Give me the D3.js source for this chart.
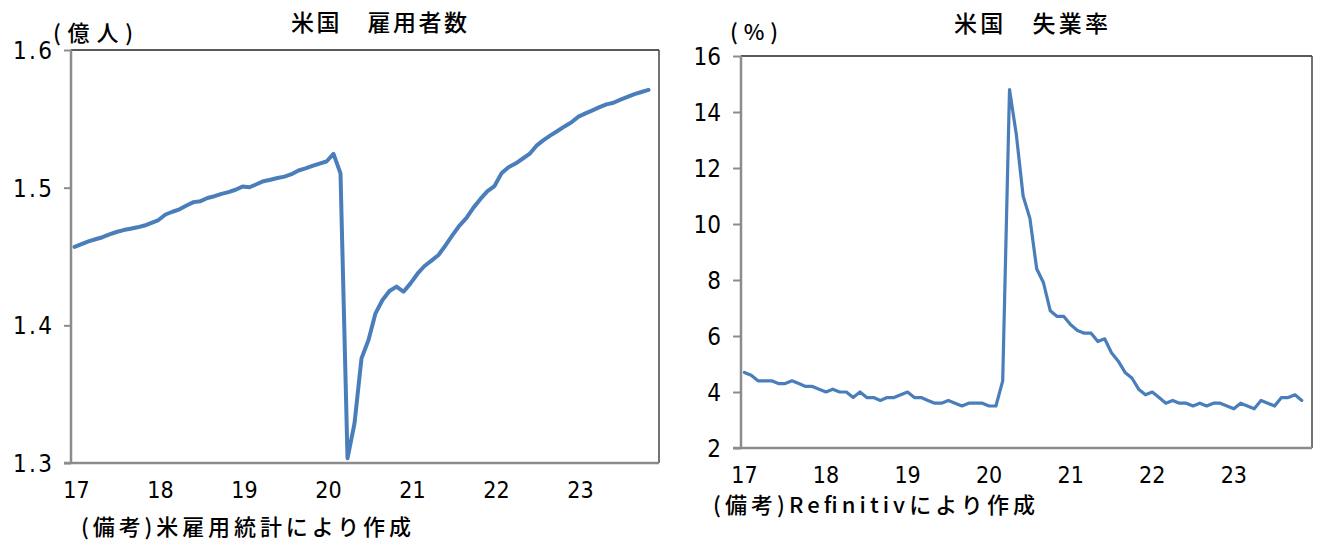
<!DOCTYPE html>
<html><head><meta charset="utf-8">
<script src="https://cdn.jsdelivr.net/npm/d3@7"></script>
<style>body{margin:0;background:#fff}svg{display:block}</style>
</head><body>
<svg id="c" width="1332" height="550"></svg>
<script>
// ---- data ----
const yearLabels = ["17","18","19","20","21","22","23"];
const months = [];
yearLabels.forEach(y => { for (let m = 1; m <= 12; m++) months.push(y + "-" + String(m).padStart(2, "0")); });

// US nonfarm employment (100 million persons), Jan 2017 - Nov 2023
const employment = [
  1.4570,1.4590,1.4610,1.4625,1.4640,1.4660,1.4678,1.4692,1.4702,1.4712,1.4725,1.4745,
  1.4765,1.4805,1.4825,1.4843,1.4870,1.4895,1.4902,1.4925,1.4938,1.4955,1.4968,1.4985,
  1.5008,1.5003,1.5025,1.5047,1.5058,1.5070,1.5080,1.5098,1.5125,1.5140,1.5158,1.5175,
  1.5190,1.5245,1.5104,1.3034,1.3288,1.3760,1.3893,1.4087,1.4184,1.4249,1.4281,1.4244,
  1.4305,1.4375,1.4431,1.4470,1.4511,1.4580,1.4655,1.4725,1.4780,1.4855,1.4918,1.4975,
  1.5012,1.5104,1.5148,1.5175,1.5210,1.5245,1.5305,1.5345,1.5380,1.5412,1.5445,1.5475,
  1.5516,1.5540,1.5562,1.5585,1.5605,1.5617,1.5640,1.5660,1.5680,1.5695,1.5710
];
// US unemployment rate (%), Jan 2017 - Nov 2023
const unemployment = [
  4.7,4.6,4.4,4.4,4.4,4.3,4.3,4.4,4.3,4.2,4.2,4.1,
  4.0,4.1,4.0,4.0,3.8,4.0,3.8,3.8,3.7,3.8,3.8,3.9,
  4.0,3.8,3.8,3.7,3.6,3.6,3.7,3.6,3.5,3.6,3.6,3.6,
  3.5,3.5,4.4,14.8,13.2,11.0,10.2,8.4,7.9,6.9,6.7,6.7,
  6.4,6.2,6.1,6.1,5.8,5.9,5.4,5.1,4.7,4.5,4.1,3.9,
  4.0,3.8,3.6,3.7,3.6,3.6,3.5,3.6,3.5,3.6,3.6,3.5,
  3.4,3.6,3.5,3.4,3.7,3.6,3.5,3.8,3.8,3.9,3.7
];
const empTicks = [1.3, 1.4, 1.5, 1.6];
const empTickLabels = ["1.3", "1.4", "1.5", "1.6"];
const unTicks = [2, 4, 6, 8, 10, 12, 14, 16];
const unTickLabels = ["2", "4", "6", "8", "10", "12", "14", "16"];

// ---- drawing ----
const svg = d3.select("#c");
const JP = "'Noto Sans CJK JP','Noto Sans',sans-serif";
const NUM = "'Liberation Sans Narrow','DejaVu Sans Condensed','Noto Sans',sans-serif";
const BLUE = "#4a7ebb";

function panel(o) {
  const g = svg.append("g");
  const x = d3.scaleBand().domain(months).range([o.x0, o.x1]).padding(0);
  const y = d3.scaleLinear().domain(o.domain).range([o.y1, o.y0]);

  // plot border (top/right dark)
  g.append("line").attr("x1", o.x0).attr("x2", o.x1).attr("y1", o.y0).attr("y2", o.y0)
    .attr("stroke", "#222").attr("stroke-width", 1.5);
  g.append("line").attr("x1", o.x1).attr("x2", o.x1).attr("y1", o.y0).attr("y2", o.y1)
    .attr("stroke", "#444").attr("stroke-width", 1.5);

  // y axis
  const ya = g.append("g").attr("transform", `translate(${o.x0},0)`)
    .call(d3.axisLeft(y).tickValues(o.ticks).tickSize(o.tick).tickFormat((d, i) => o.tickLabels[i]));
  ya.select(".domain").attr("stroke", "#8c8c8c").attr("stroke-width", 2.5)
    .attr("d", `M0,${o.y0}V${o.y1}`);
  ya.selectAll(".tick line").attr("stroke", "#8c8c8c").attr("stroke-width", 2);
  ya.selectAll(".tick text").attr("font-family", NUM).attr("font-size", 24).attr("fill", "#000")
    .attr("x", -(o.x0 - o.labelRight)).attr("dy", "0.35em");
  if (o.yLabelLen) ya.selectAll(".tick text").attr("textLength", o.yLabelLen).attr("lengthAdjust", "spacing");

  // x axis
  const xa = g.append("g").attr("transform", `translate(0,${o.y1})`)
    .call(d3.axisBottom(x).tickValues(months.filter(m => m.endsWith("-01"))).tickSize(0)
      .tickFormat(m => m.slice(0, 2)));
  xa.select(".domain").attr("stroke", "#8c8c8c").attr("stroke-width", 2.5)
    .attr("d", `M${o.x0 - o.tick},0H${o.x1}`);
  xa.selectAll(".tick text").attr("font-family", NUM).attr("font-size", 23).attr("fill", "#000")
    .attr("y", o.xLabelY - o.y1).attr("dy", "0.35em").attr("dx", o.xLabelDx || 0);

  // line
  const line = d3.line().x((d, i) => x(months[i]) + x.bandwidth() / 2).y(d => y(d));
  g.append("path").datum(o.values).attr("d", line).attr("fill", "none")
    .attr("stroke", BLUE).attr("stroke-width", o.lw).attr("stroke-linejoin", "round").attr("stroke-linecap", "round");

  // texts
  g.append("text").attr("x", o.titleX).attr("y", o.titleY).attr("dy", "0.35em")
    .attr("font-family", JP).attr("font-weight", 500).attr("font-size", 23).attr("fill", "#000")
    .attr("textLength", o.titleLen).attr("lengthAdjust", "spacing").text(o.title);
  g.append("text").attr("x", o.unitX).attr("y", o.unitY).attr("dy", "0.35em")
    .attr("font-family", JP).attr("font-weight", 500).attr("font-size", 22).attr("fill", "#000")
    .attr("textLength", o.unitLen).attr("lengthAdjust", "spacing").text(o.unit);
  g.append("text").attr("x", o.noteX).attr("y", o.noteY).attr("dy", "0.35em")
    .attr("font-family", JP).attr("font-weight", 500).attr("font-size", 22).attr("fill", "#000")
    .attr("textLength", o.noteLen).attr("lengthAdjust", "spacing").text(o.note);
}

panel({
  x0: 71, x1: 659, y0: 50, y1: 463, domain: [1.3, 1.6],
  ticks: empTicks, tickLabels: empTickLabels, tick: 7, labelRight: 52, yLabelLen: 39,
  xLabelY: 490, xLabelDx: 2, values: employment, lw: 4,
  title: "米国　雇用者数", titleX: 291, titleY: 23, titleLen: 176,
  unit: "(億人)", unitX: 53, unitY: 33, unitLen: 80,
  note: "(備考)米雇用統計により作成", noteX: 81, noteY: 527, noteLen: 330
});
panel({
  x0: 741, x1: 1312, y0: 56, y1: 448, domain: [2, 16],
  ticks: unTicks, tickLabels: unTickLabels, tick: 8, labelRight: 721,
  xLabelY: 475, xLabelDx: 0, values: unemployment, lw: 3.2,
  title: "米国　失業率", titleX: 954, titleY: 24, titleLen: 154,
  unit: "(%)", unitX: 730, unitY: 32, unitLen: 48,
  note: "(備考)Refinitivにより作成", noteX: 713, noteY: 505, noteLen: 322
});
</script>
</body></html>
